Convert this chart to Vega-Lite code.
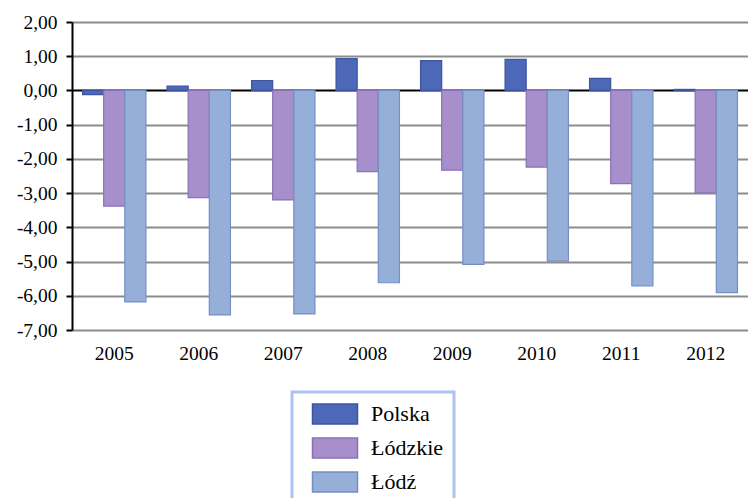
{
  "$schema": "https://vega.github.io/schema/vega-lite/v6.json",
  "width": 676,
  "height": 308,
  "autosize": "none",
  "padding": {"left": 72, "top": 22, "right": 0, "bottom": 168},
  "background": "white",
  "data": {
    "values": [
      {"year": "2005", "series": "Polska", "value": -0.12},
      {"year": "2005", "series": "Łódzkie", "value": -3.38},
      {"year": "2005", "series": "Łódź", "value": -6.18},
      {"year": "2006", "series": "Polska", "value": 0.13},
      {"year": "2006", "series": "Łódzkie", "value": -3.13},
      {"year": "2006", "series": "Łódź", "value": -6.56},
      {"year": "2007", "series": "Polska", "value": 0.29},
      {"year": "2007", "series": "Łódzkie", "value": -3.2},
      {"year": "2007", "series": "Łódź", "value": -6.53},
      {"year": "2008", "series": "Polska", "value": 0.93},
      {"year": "2008", "series": "Łódzkie", "value": -2.37},
      {"year": "2008", "series": "Łódź", "value": -5.62},
      {"year": "2009", "series": "Polska", "value": 0.87},
      {"year": "2009", "series": "Łódzkie", "value": -2.33},
      {"year": "2009", "series": "Łódź", "value": -5.08},
      {"year": "2010", "series": "Polska", "value": 0.91},
      {"year": "2010", "series": "Łódzkie", "value": -2.24},
      {"year": "2010", "series": "Łódź", "value": -4.99},
      {"year": "2011", "series": "Polska", "value": 0.35},
      {"year": "2011", "series": "Łódzkie", "value": -2.72},
      {"year": "2011", "series": "Łódź", "value": -5.71},
      {"year": "2012", "series": "Polska", "value": 0.03},
      {"year": "2012", "series": "Łódzkie", "value": -2.99},
      {"year": "2012", "series": "Łódź", "value": -5.91}
    ]
  },
  "mark": {"type": "bar", "strokeWidth": 1.2},
  "encoding": {
    "x": {
      "field": "year",
      "type": "nominal",
      "scale": {"paddingInner": 0.25, "paddingOuter": 0.125},
      "axis": {
        "title": null,
        "labelAngle": 0,
        "labelFont": "Liberation Serif",
        "labelFontSize": 19.5,
        "labelColor": "black",
        "labelPadding": 14,
        "ticks": false,
        "domain": false,
        "grid": false
      }
    },
    "xOffset": {"field": "series", "sort": ["Polska", "Łódzkie", "Łódź"]},
    "y": {
      "field": "value",
      "type": "quantitative",
      "scale": {"domain": [-7, 2], "nice": false, "zero": false},
      "axis": {
        "title": null,
        "values": [-7, -6, -5, -4, -3, -2, -1, 0, 1, 2],
        "labelExpr": "replace(replace(format(datum.value, '.2f'), '.', ','), '\u2212', '-')",
        "labelOverlap": false,
        "labelFlush": false,
        "labelFont": "Liberation Serif",
        "labelFontSize": 19.5,
        "labelColor": "black",
        "labelPadding": 9,
        "tickSize": 6,
        "tickColor": "black",
        "tickWidth": 2,
        "domainColor": "black",
        "domainWidth": 2,
        "grid": true,
        "gridColor": {"condition": {"test": "datum.value === 0", "value": "black"}, "value": "#8c8c8c"},
        "gridWidth": 2,
        "gridOpacity": 1
      }
    },
    "color": {
      "field": "series",
      "type": "nominal",
      "sort": ["Polska", "Łódzkie", "Łódź"],
      "scale": {"domain": ["Polska", "Łódzkie", "Łódź"], "range": ["#4d68b8", "#a68fca", "#96afd9"]},
      "legend": {
        "title": null,
        "orient": "none",
        "legendX": 220,
        "legendY": 370,
        "fillColor": "white",
        "strokeColor": "#aec3f2",
        "padding": 10,
        "symbolOffset": 21,
        "symbolType": "M-2,-0.88L2,-0.88L2,0.88L-2,0.88Z",
        "symbolSize": 506,
        "symbolStrokeWidth": 1.5,
        "symbolOpacity": 1,
        "labelFont": "Liberation Serif",
        "labelFontSize": 22,
        "labelColor": "black",
        "labelOffset": 24,
        "labelExpr": "datum.label + '                    '",
        "rowPadding": 8
      }
    },
    "stroke": {
      "field": "series",
      "type": "nominal",
      "sort": ["Polska", "Łódzkie", "Łódź"],
      "scale": {"domain": ["Polska", "Łódzkie", "Łódź"], "range": ["#3d559f", "#8a70b6", "#738fc6"]},
      "legend": null
    }
  },
  "config": {
    "view": {"stroke": null},
    "legend": {"strokeWidth": 3},
    "axis": {"labelFont": "Liberation Serif", "labelFontSize": 19.5}
  }
}
